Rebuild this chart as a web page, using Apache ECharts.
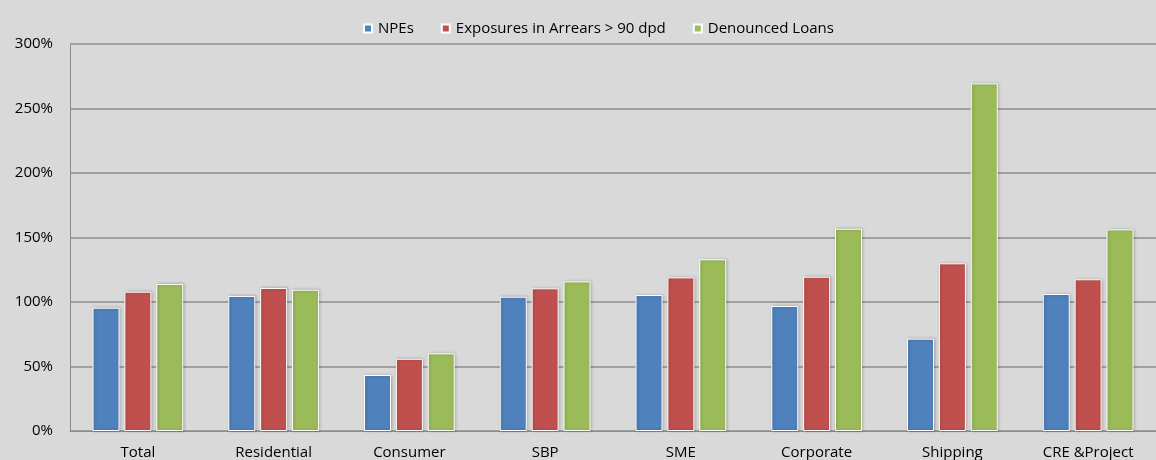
<!DOCTYPE html>
<html>
<head>
<meta charset="utf-8">
<script src="https://cdn.jsdelivr.net/npm/echarts@6/dist/echarts.min.js"></script>
<style>
  html, body { margin: 0; padding: 0; background: #d9d9d9; }
  #chart { width: 1156px; height: 460px; }
</style>
</head>
<body>
<div id="chart"></div>
<script>
// Loan segments on the x axis
const categories = ['Total', 'Residential', 'Consumer', 'SBP', 'SME', 'Corporate', 'Shipping', 'CRE &Project'];

// Ratios in percent, one value per segment
const npes = [95.6, 104.7, 43.4, 104.1, 105.4, 96.9, 71.6, 106.2];
const arrears90 = [108, 110.9, 56, 110.6, 119.1, 119.6, 130, 117.6];
const denounced = [114, 109.5, 60.2, 116, 133.1, 156.8, 269.5, 156.3];

const seriesNames = ['NPEs', 'Exposures in Arrears > 90 dpd', 'Denounced Loans'];
const seriesColors = ['#4f81bd', '#c0504d', '#9bbb59'];
const seriesData = [npes, arrears90, denounced];

const fontFamily = '"Open Sans", "Noto Sans", sans-serif';

const chart = echarts.init(document.getElementById('chart'), null, { renderer: 'canvas' });

chart.setOption({
  backgroundColor: '#d9d9d9',
  animation: false,
  textStyle: { fontFamily: fontFamily },
  legend: {
    top: 16,
    left: 358,
    itemWidth: 8,
    itemHeight: 8,
    itemGap: 27,
    icon: 'rect',
    textStyle: { fontFamily: fontFamily, fontSize: 15, color: '#000', padding: [0, 0, 0, 1] },
    data: seriesNames
  },
  grid: { left: 70, right: 0, top: 44, bottom: 29, containLabel: false },
  xAxis: {
    type: 'category',
    data: categories,
    axisLine: { show: true, lineStyle: { color: '#8c8c8c', width: 1 } },
    axisTick: { show: false },
    axisLabel: { color: '#000', fontSize: 15, fontFamily: fontFamily, margin: 14 }
  },
  yAxis: {
    type: 'value',
    min: 0,
    max: 300,
    interval: 50,
    axisLine: { show: true, lineStyle: { color: '#8c8c8c', width: 1 } },
    axisTick: { show: false },
    splitLine: { show: true, lineStyle: { color: '#8c8c8c', width: 1.5 } },
    axisLabel: {
      color: '#000', fontSize: 15, fontFamily: fontFamily, margin: 17,
      formatter: v => v + '%'
    }
  },
  series: seriesNames.map((name, i) => ({
    name: name,
    type: 'bar',
    data: seriesData[i],
    barWidth: 27,
    barGap: '18%',
    itemStyle: {
      color: seriesColors[i],
      borderColor: '#ffffff',
      borderWidth: 1,
      shadowColor: 'rgba(0,0,0,0.25)',
      shadowBlur: 3,
      shadowOffsetX: 1,
      shadowOffsetY: 0
    }
  }))
});
</script>
</body>
</html>
